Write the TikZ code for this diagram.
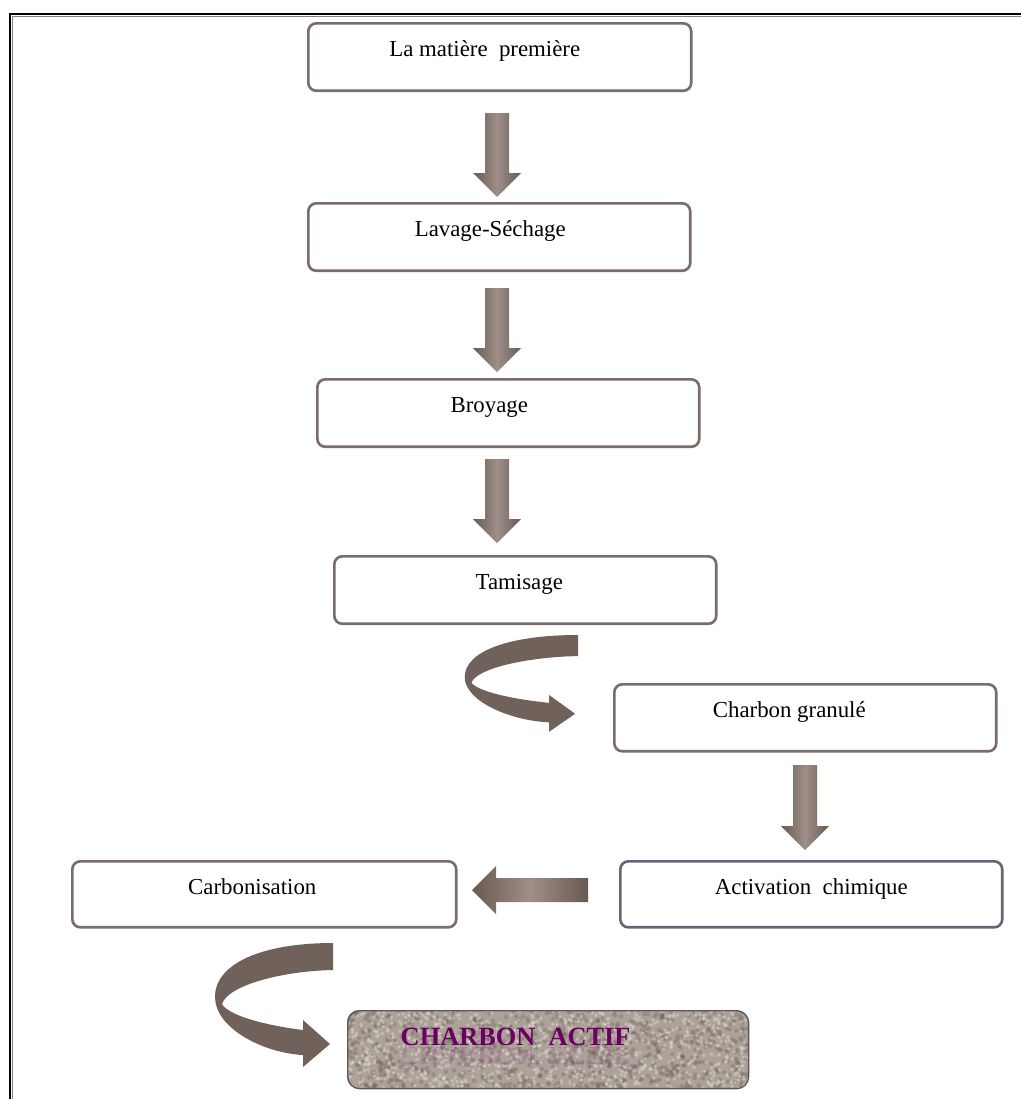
\documentclass[tikz,border=0pt]{standalone}
\usepackage{fontspec}
\setmainfont{Liberation Serif}

\definecolor{boxbrown}{RGB}{122,108,102}
\definecolor{boxblue}{RGB}{104,100,120}
\definecolor{arrowdark}{RGB}{104,89,82}
\definecolor{arrowlight}{RGB}{158,143,136}
\definecolor{curlbrown}{RGB}{112,97,90}
\definecolor{granite}{RGB}{172,162,154}
\definecolor{speckdark}{RGB}{112,102,94}
\definecolor{specklight}{RGB}{228,221,213}
\definecolor{actifpurple}{RGB}{108,0,98}

\tikzset{
  stage/.style={draw=boxbrown, line width=1.5pt, rounded corners=0.16cm, fill=white,
    minimum width=7.64cm, minimum height=1.35cm, inner sep=0pt,
    text height=0.66cm, text depth=0.69cm, anchor=north west,
    font=\fontsize{13}{15}\selectfont},
  textleft/.style={execute at begin node={\hspace*{-#1}}},
  blockdown/.pic={
    \shade[left color=arrowdark, right color=arrowdark, middle color=arrowlight]
      (-12,0) -- (12,0) -- (12,{#1-24}) -- (24,{#1-24}) -- (0,#1)
      -- (-24,{#1-24}) -- (-12,{#1-24}) -- cycle;
  },
  curlarrow/.pic={
    \fill[curlbrown] (0,0) .. controls (-70,0) and (-118,20) .. (-118,54)
      .. controls (-118,85) and (-70,110) .. (-30,112) -- (-30,124) -- (-3,101)
      -- (-30,77) -- (-30,87) .. controls (-70,82) and (-105,72) .. (-111,61)
      .. controls (-105,42) and (-50,28) .. (0,27) -- cycle;
  }
}

\begin{document}
\begin{tikzpicture}[x=0.02cm, y=-0.02cm]
    \useasboundingbox (0,0) rectangle (1021,1099);

    % frame
    \coordinate (framebottom) at (10,1099);
    \coordinate (framecorner) at (10,14);
    \coordinate (frameright) at (1021,14);
    \draw[gray, line width=0.6pt] (12.5,1099) -- (12.5,16.5) -- (1021,16.5);
    \draw[line width=1pt] (framebottom) -- (framecorner) -- (frameright);

    % steps
    \node[stage, textleft=0.6cm, minimum width=7.66cm] (matiere) at (307,22) {La matière\ \ première};
    \node[stage, textleft=0.36cm] (lavage) at (307,202) {Lavage-Séchage};
    \node[stage, textleft=0.76cm] (broyage) at (316,378) {Broyage};
    \node[stage, textleft=0.24cm] (tamisage) at (333,555) {Tamisage};
    \node[stage, textleft=0.64cm, minimum height=1.34cm, text depth=0.68cm] (granule) at (613,683) {Charbon granulé};
    \node[stage, draw=boxblue, minimum height=1.32cm, text depth=0.66cm] (activation) at (619,860) {Activation\ \ chimique};
    \node[stage, textleft=0.48cm, minimum width=7.68cm, minimum height=1.32cm, text depth=0.66cm] (carbonisation) at (71,860) {Carbonisation};

    % granite texture of the last box
    \begin{scope}
      \clip[rounded corners=0.24cm] (347,1010) rectangle (748,1088);
      \fill[granite] (347,1010) rectangle (748,1088);
      \pgfmathsetseed{42}
      \foreach \i in {1,...,900}{
        \pgfmathsetmacro\px{347+401*rnd}\pgfmathsetmacro\py{1010+78*rnd}
        \fill[speckdark, opacity=0.35] (\px,\py) circle (2.2);
      }
      \foreach \i in {1,...,900}{
        \pgfmathsetmacro\px{347+401*rnd}\pgfmathsetmacro\py{1010+78*rnd}
        \fill[specklight, opacity=0.45] (\px,\py) circle (1.9);
      }
    \end{scope}
    \node[stage, textleft=1.3cm, draw=boxbrown!80!black, line width=0.8pt, fill=none,
      rounded corners=0.24cm, minimum width=8.02cm, minimum height=1.56cm,
      text height=0.70cm, text depth=0.86cm, text=actifpurple,
      font=\bfseries\fontsize{15}{17}\selectfont] (actif) at (347,1010) {CHARBON\ \ ACTIF};
    \node[transform shape, yscale=-1, anchor=base, inner sep=0pt, text=actifpurple,
      text opacity=0.16, font=\bfseries\fontsize{15}{17}\selectfont]
      (actifmirror) at (515,1047) {CHARBON\ \ ACTIF};

    % arrows
    \coordinate (a1) at (497,113);
    \coordinate (a2) at (497,288);
    \coordinate (a3) at (497,459);
    \coordinate (a4) at (805,765);
    \coordinate (a5) at (588,890);
    \pic at (a1) {blockdown=84};
    \pic at (a2) {blockdown=84};
    \pic at (a3) {blockdown=84};
    \pic at (a4) {blockdown=85};
    \pic[rotate=-90] at (a5) {blockdown=116};

    \coordinate (c1) at (578,635);
    \coordinate (c2) at (333,943);
    \pic[xscale=0.96, yscale=0.78] at (c1) {curlarrow};
    \pic at (c2) {curlarrow};

\end{tikzpicture}
\end{document}
